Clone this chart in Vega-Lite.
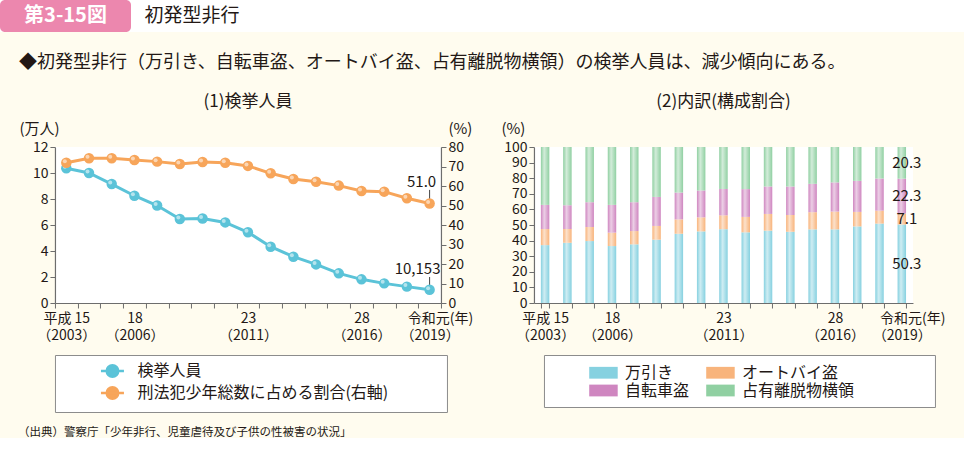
{
  "$schema": "https://vega.github.io/schema/vega-lite/v6.json",
  "background": "#fffcef",
  "padding": {"left": 0, "top": 0, "right": 0, "bottom": 0},
  "config": {
    "font": "Noto Sans CJK JP",
    "view": {"stroke": null},
    "axis": {"labelFont": "Noto Sans CJK JP", "titleFont": "Noto Sans CJK JP", "labelFontSize": 14, "labelColor": "#231815", "domainColor": "#6d6d6d", "tickColor": "#6d6d6d", "grid": false, "titleFontWeight": "normal", "titleFontSize": 15, "titleColor": "#231815", "tickSize": 5, "domainWidth": 1.2, "labelOverlap": false},
    "legend": {"labelFont": "Noto Sans CJK JP", "labelColor": "#231815", "labelLimit": 500},
    "title": {"font": "Noto Sans CJK JP", "fontWeight": "normal", "color": "#231815"}
  },
  "title": {"text": "（出典）警察庁「少年非行、児童虐待及び子供の性被害の状況」", "orient": "bottom", "anchor": "start", "fontSize": 11.5, "offset": 14, "dx": 18},
  "center": true,
  "spacing": 22,
  "vconcat": [
    {
      "spacing": 0,
      "hconcat": [
        {
          "width": 131, "height": 32,
          "view": {"fill": "white", "stroke": null},
          "data": {"values": [{"t": "第3-15図"}]},
          "layer": [
            {"mark": {"type": "rect", "color": "#ec87ae", "cornerRadius": 5}, "encoding": {}},
            {"mark": {"type": "text", "color": "white", "fontSize": 20, "fontWeight": "bold"}, "encoding": {"text": {"field": "t"}}}
          ]
        },
        {
          "width": 122, "height": 32,
          "view": {"fill": "white", "stroke": null},
          "data": {"values": [{"t": "初発型非行"}]},
          "mark": {"type": "text", "fontSize": 19, "color": "#231815"},
          "encoding": {"text": {"field": "t"}}
        },
        {
          "width": 747, "height": 32,
          "view": {"fill": "white", "stroke": null},
          "data": {"values": [{"t": ""}]},
          "mark": {"type": "text"},
          "encoding": {"text": {"field": "t"}}
        }
      ]
    },
    {
      "title": {"text": "◆初発型非行（万引き、自転車盗、オートバイ盗、占有離脱物横領）の検挙人員は、減少傾向にある。", "anchor": "start", "fontSize": 18, "offset": 21},
      "spacing": 28,
      "resolve": {"scale": {"color": "independent"}, "legend": {"color": "independent"}},
      "hconcat": [
        {
          "title": {"text": "(1)検挙人員", "fontSize": 17, "offset": 10},
          "width": 386, "height": 156,
          "view": {"fill": "white", "stroke": null},
          "data": {"values": [
            {"year": 2003, "series": "検挙人員", "value": 10.36},
            {"year": 2004, "series": "検挙人員", "value": 10.0},
            {"year": 2005, "series": "検挙人員", "value": 9.15},
            {"year": 2006, "series": "検挙人員", "value": 8.25},
            {"year": 2007, "series": "検挙人員", "value": 7.5},
            {"year": 2008, "series": "検挙人員", "value": 6.46},
            {"year": 2009, "series": "検挙人員", "value": 6.5},
            {"year": 2010, "series": "検挙人員", "value": 6.2},
            {"year": 2011, "series": "検挙人員", "value": 5.44},
            {"year": 2012, "series": "検挙人員", "value": 4.33},
            {"year": 2013, "series": "検挙人員", "value": 3.56},
            {"year": 2014, "series": "検挙人員", "value": 2.97},
            {"year": 2015, "series": "検挙人員", "value": 2.28},
            {"year": 2016, "series": "検挙人員", "value": 1.82},
            {"year": 2017, "series": "検挙人員", "value": 1.51},
            {"year": 2018, "series": "検挙人員", "value": 1.26},
            {"year": 2019, "series": "検挙人員", "value": 1.0153, "label": "10,153"},
            {"year": 2003, "series": "刑法犯少年総数に占める割合(右軸)", "value": 71.9},
            {"year": 2004, "series": "刑法犯少年総数に占める割合(右軸)", "value": 74.2},
            {"year": 2005, "series": "刑法犯少年総数に占める割合(右軸)", "value": 74.2},
            {"year": 2006, "series": "刑法犯少年総数に占める割合(右軸)", "value": 73.3},
            {"year": 2007, "series": "刑法犯少年総数に占める割合(右軸)", "value": 72.5},
            {"year": 2008, "series": "刑法犯少年総数に占める割合(右軸)", "value": 71.3},
            {"year": 2009, "series": "刑法犯少年総数に占める割合(右軸)", "value": 72.3},
            {"year": 2010, "series": "刑法犯少年総数に占める割合(右軸)", "value": 71.9},
            {"year": 2011, "series": "刑法犯少年総数に占める割合(右軸)", "value": 70.3},
            {"year": 2012, "series": "刑法犯少年総数に占める割合(右軸)", "value": 66.5},
            {"year": 2013, "series": "刑法犯少年総数に占める割合(右軸)", "value": 63.6},
            {"year": 2014, "series": "刑法犯少年総数に占める割合(右軸)", "value": 62.2},
            {"year": 2015, "series": "刑法犯少年総数に占める割合(右軸)", "value": 60.2},
            {"year": 2016, "series": "刑法犯少年総数に占める割合(右軸)", "value": 57.4},
            {"year": 2017, "series": "刑法犯少年総数に占める割合(右軸)", "value": 57.1},
            {"year": 2018, "series": "刑法犯少年総数に占める割合(右軸)", "value": 53.7},
            {"year": 2019, "series": "刑法犯少年総数に占める割合(右軸)", "value": 51.0, "label": "51.0"}
          ]},
          "encoding": {
            "x": {"field": "year", "type": "ordinal", "bandPosition": 0.5,
              "scale": {"type": "band", "paddingInner": 0, "paddingOuter": 0},
              "axis": {"title": null, "labelAngle": 0, "tickBand": "extent", "labelPadding": 3, "labelLineHeight": 17,
                "labelExpr": "datum.value == 2003 ? ['平成 15', '（2003）'] : datum.value == 2006 ? ['18', '（2006）'] : datum.value == 2011 ? ['23', '（2011）'] : datum.value == 2016 ? ['28', '（2016）'] : datum.value == 2019 ? ['\u200B\u3000\u2002令和元(年)', '（2019）'] : ''"}}
          },
          "layer": [
            {
              "transform": [{"filter": "datum.series == '検挙人員'"}],
              "encoding": {
                "y": {"field": "value", "type": "quantitative", "scale": {"domain": [0, 12]},
                  "axis": {"values": [0, 2, 4, 6, 8, 10, 12], "title": "(万人)", "titleAngle": 0, "titleX": -16, "titleY": -19, "titleAlign": "center", "titleBaseline": "middle", "labelPadding": 2, "labelOverlap": false}}
              },
              "layer": [
                {"transform": [{"filter": "datum.label"}], "mark": {"type": "rule", "color": "#444", "strokeWidth": 1}, "encoding": {"y2": {"datum": 2.0}}},
                {"mark": {"type": "line", "strokeWidth": 3, "point": {"filled": true, "size": 110}},
                  "encoding": {"color": {"field": "series", "type": "nominal",
                    "scale": {"domain": ["検挙人員", "刑法犯少年総数に占める割合(右軸)"], "range": ["#5bc3d8", "#f7a55a"]},
                    "legend": {"orient": "none", "legendX": 0, "legendY": 208, "title": " ", "titleOrient": "right", "titlePadding": 51, "titleFontSize": 1, "padding": 8, "strokeColor": "#8c8c8c", "fillColor": "white", "labelFontSize": 16, "symbolOffset": 41.5, "labelOffset": 17, "rowPadding": 0, "symbolSize": 132, "symbolStrokeWidth": 2.5,
                      "symbolType": "M-2,0H2M-1,0A1,1 0 1,0 1,0A1,1 0 1,0 -1,0Z",
                      "encode": {"symbols": {"update": {"fill": {"signal": "datum.value == '検挙人員' ? '#5bc3d8' : '#f7a55a'"}, "stroke": {"signal": "datum.value == '検挙人員' ? '#5bc3d8' : '#f7a55a'"}}}}}}}},
                {"mark": {"type": "point", "filled": true, "color": "white", "opacity": 0.55, "size": 16, "xOffset": -1.5, "yOffset": -1.5}},
                {"transform": [{"filter": "datum.label"}], "mark": {"type": "text", "fontSize": 15, "dx": -12, "dy": -21, "color": "#231815"}, "encoding": {"text": {"field": "label"}}}
              ]
            },
            {
              "transform": [{"filter": "datum.series != '検挙人員'"}],
              "encoding": {
                "y": {"field": "value", "type": "quantitative", "scale": {"domain": [0, 80]},
                  "axis": {"orient": "right", "values": [0, 10, 20, 30, 40, 50, 60, 70, 80], "title": "(%)", "titleAngle": 0, "titleX": 19, "titleY": -19, "titleAlign": "center", "titleBaseline": "middle", "labelPadding": 2, "labelOverlap": false}}
              },
              "layer": [
                {"transform": [{"filter": "datum.label"}], "mark": {"type": "rule", "color": "#444", "strokeWidth": 1}, "encoding": {"y2": {"datum": 58}}},
                {"mark": {"type": "line", "strokeWidth": 3, "point": {"filled": true, "size": 110}},
                  "encoding": {"color": {"field": "series", "type": "nominal",
                    "scale": {"domain": ["検挙人員", "刑法犯少年総数に占める割合(右軸)"], "range": ["#5bc3d8", "#f7a55a"]},
                    "legend": {"orient": "none", "legendX": 0, "legendY": 208, "title": " ", "titleOrient": "right", "titlePadding": 51, "titleFontSize": 1, "padding": 8, "strokeColor": "#8c8c8c", "fillColor": "white", "labelFontSize": 16, "symbolOffset": 41.5, "labelOffset": 17, "rowPadding": 0, "symbolSize": 132, "symbolStrokeWidth": 2.5,
                      "symbolType": "M-2,0H2M-1,0A1,1 0 1,0 1,0A1,1 0 1,0 -1,0Z",
                      "encode": {"symbols": {"update": {"fill": {"signal": "datum.value == '検挙人員' ? '#5bc3d8' : '#f7a55a'"}, "stroke": {"signal": "datum.value == '検挙人員' ? '#5bc3d8' : '#f7a55a'"}}}}}}}},
                {"mark": {"type": "point", "filled": true, "color": "white", "opacity": 0.55, "size": 16, "xOffset": -1.5, "yOffset": -1.5}},
                {"transform": [{"filter": "datum.label"}], "mark": {"type": "text", "fontSize": 15, "dx": -8, "dy": -22, "color": "#231815"}, "encoding": {"text": {"field": "label"}}}
              ]
            }
          ],
          "resolve": {"scale": {"y": "independent"}}
        },
        {
          "title": {"text": "(2)内訳(構成割合)", "fontSize": 17, "offset": 10},
          "width": 379, "height": 156,
          "view": {"fill": "white", "stroke": null},
          "data": {"values": [
            {"year": 2003, "type": "万引き", "k": 1, "value": 37.1}, {"year": 2003, "type": "オートバイ盗", "k": 2, "value": 10.3}, {"year": 2003, "type": "自転車盗", "k": 3, "value": 15.5}, {"year": 2003, "type": "占有離脱物横領", "k": 4, "value": 37.1},
            {"year": 2004, "type": "万引き", "k": 1, "value": 38.6}, {"year": 2004, "type": "オートバイ盗", "k": 2, "value": 8.8}, {"year": 2004, "type": "自転車盗", "k": 3, "value": 15.3}, {"year": 2004, "type": "占有離脱物横領", "k": 4, "value": 37.3},
            {"year": 2005, "type": "万引き", "k": 1, "value": 39.7}, {"year": 2005, "type": "オートバイ盗", "k": 2, "value": 9.0}, {"year": 2005, "type": "自転車盗", "k": 3, "value": 15.9}, {"year": 2005, "type": "占有離脱物横領", "k": 4, "value": 35.4},
            {"year": 2006, "type": "万引き", "k": 1, "value": 36.5}, {"year": 2006, "type": "オートバイ盗", "k": 2, "value": 8.6}, {"year": 2006, "type": "自転車盗", "k": 3, "value": 17.8}, {"year": 2006, "type": "占有離脱物横領", "k": 4, "value": 37.1},
            {"year": 2007, "type": "万引き", "k": 1, "value": 37.6}, {"year": 2007, "type": "オートバイ盗", "k": 2, "value": 8.5}, {"year": 2007, "type": "自転車盗", "k": 3, "value": 18.5}, {"year": 2007, "type": "占有離脱物横領", "k": 4, "value": 35.4},
            {"year": 2008, "type": "万引き", "k": 1, "value": 40.6}, {"year": 2008, "type": "オートバイ盗", "k": 2, "value": 8.8}, {"year": 2008, "type": "自転車盗", "k": 3, "value": 18.6}, {"year": 2008, "type": "占有離脱物横領", "k": 4, "value": 32.0},
            {"year": 2009, "type": "万引き", "k": 1, "value": 44.4}, {"year": 2009, "type": "オートバイ盗", "k": 2, "value": 9.2}, {"year": 2009, "type": "自転車盗", "k": 3, "value": 17.2}, {"year": 2009, "type": "占有離脱物横領", "k": 4, "value": 29.2},
            {"year": 2010, "type": "万引き", "k": 1, "value": 45.9}, {"year": 2010, "type": "オートバイ盗", "k": 2, "value": 9.0}, {"year": 2010, "type": "自転車盗", "k": 3, "value": 17.2}, {"year": 2010, "type": "占有離脱物横領", "k": 4, "value": 27.9},
            {"year": 2011, "type": "万引き", "k": 1, "value": 47.3}, {"year": 2011, "type": "オートバイ盗", "k": 2, "value": 8.9}, {"year": 2011, "type": "自転車盗", "k": 3, "value": 16.9}, {"year": 2011, "type": "占有離脱物横領", "k": 4, "value": 26.9},
            {"year": 2012, "type": "万引き", "k": 1, "value": 45.3}, {"year": 2012, "type": "オートバイ盗", "k": 2, "value": 9.9}, {"year": 2012, "type": "自転車盗", "k": 3, "value": 17.8}, {"year": 2012, "type": "占有離脱物横領", "k": 4, "value": 27.0},
            {"year": 2013, "type": "万引き", "k": 1, "value": 46.4}, {"year": 2013, "type": "オートバイ盗", "k": 2, "value": 10.7}, {"year": 2013, "type": "自転車盗", "k": 3, "value": 17.6}, {"year": 2013, "type": "占有離脱物横領", "k": 4, "value": 25.3},
            {"year": 2014, "type": "万引き", "k": 1, "value": 45.7}, {"year": 2014, "type": "オートバイ盗", "k": 2, "value": 10.7}, {"year": 2014, "type": "自転車盗", "k": 3, "value": 18.3}, {"year": 2014, "type": "占有離脱物横領", "k": 4, "value": 25.3},
            {"year": 2015, "type": "万引き", "k": 1, "value": 47.2}, {"year": 2015, "type": "オートバイ盗", "k": 2, "value": 11.0}, {"year": 2015, "type": "自転車盗", "k": 3, "value": 18.2}, {"year": 2015, "type": "占有離脱物横領", "k": 4, "value": 23.6},
            {"year": 2016, "type": "万引き", "k": 1, "value": 47.2}, {"year": 2016, "type": "オートバイ盗", "k": 2, "value": 11.4}, {"year": 2016, "type": "自転車盗", "k": 3, "value": 18.7}, {"year": 2016, "type": "占有離脱物横領", "k": 4, "value": 22.7},
            {"year": 2017, "type": "万引き", "k": 1, "value": 49.1}, {"year": 2017, "type": "オートバイ盗", "k": 2, "value": 9.3}, {"year": 2017, "type": "自転車盗", "k": 3, "value": 19.9}, {"year": 2017, "type": "占有離脱物横領", "k": 4, "value": 21.7},
            {"year": 2018, "type": "万引き", "k": 1, "value": 50.9}, {"year": 2018, "type": "オートバイ盗", "k": 2, "value": 8.3}, {"year": 2018, "type": "自転車盗", "k": 3, "value": 20.6}, {"year": 2018, "type": "占有離脱物横領", "k": 4, "value": 20.2},
            {"year": 2019, "type": "万引き", "k": 1, "value": 50.3}, {"year": 2019, "type": "オートバイ盗", "k": 2, "value": 7.1}, {"year": 2019, "type": "自転車盗", "k": 3, "value": 22.3}, {"year": 2019, "type": "占有離脱物横領", "k": 4, "value": 20.3}
          ]},
          "transform": [{"stack": "value", "groupby": ["year"], "sort": [{"field": "k", "order": "ascending"}], "as": ["v0", "v1"]}],
          "encoding": {
            "x": {"field": "year", "type": "ordinal",
              "scale": {"type": "band", "paddingInner": 0.62, "paddingOuter": 0.31},
              "axis": {"title": null, "labelAngle": 0, "tickBand": "extent", "labelPadding": 3, "labelLineHeight": 17,
                "labelExpr": "datum.value == 2003 ? ['平成 15', '（2003）'] : datum.value == 2006 ? ['18', '（2006）'] : datum.value == 2011 ? ['23', '（2011）'] : datum.value == 2016 ? ['28', '（2016）'] : datum.value == 2019 ? ['\u200B\u3000\u2002令和元(年)', '（2019）'] : ''"}}
          },
          "layer": [
            {
              "mark": {"type": "bar"},
              "encoding": {
                "y": {"field": "v0", "type": "quantitative", "scale": {"domain": [0, 100]},
                  "axis": {"values": [0, 10, 20, 30, 40, 50, 60, 70, 80, 90, 100], "title": "(%)", "titleAngle": 0, "titleX": -21, "titleY": -19, "titleAlign": "center", "titleBaseline": "middle", "labelPadding": 2, "labelOverlap": false}},
                "y2": {"field": "v1"},
                "color": {"field": "type", "type": "nominal",
                  "scale": {"domain": ["万引き", "オートバイ盗", "自転車盗", "占有離脱物横領"], "range": ["#86d1e0", "#f8b47c", "#cf86c0", "#90d0a2"]},
                  "legend": {"orient": "none", "legendX": 10, "legendY": 208, "direction": "horizontal", "columns": 2, "columnPadding": 16, "rowPadding": 0, "title": " ", "titleOrient": "left", "titlePadding": 42, "titleFontSize": 1, "padding": 8, "strokeColor": "#8c8c8c", "fillColor": "white", "labelFontSize": 16, "labelOffset": 12, "symbolSize": 361, "symbolStrokeWidth": 0,
                    "symbolType": "M-1.5,-0.62H1.5V0.62H-1.5Z",
                    "labelExpr": "datum.label == '占有離脱物横領' ? datum.label + '\u3000\u3000\u3000\u3000\u2002\u200B' : datum.label"}}
              }
            },
            {
              "mark": {"type": "bar", "color": {"gradient": "linear", "x1": 0, "x2": 1, "y1": 0, "y2": 0, "stops": [{"offset": 0, "color": "rgba(255,255,255,0)"}, {"offset": 0.4, "color": "rgba(255,255,255,0.6)"}, {"offset": 1, "color": "rgba(255,255,255,0)"}]}},
              "encoding": {
                "y": {"field": "v0", "type": "quantitative", "scale": {"domain": [0, 100]},
                  "axis": {"values": [0, 10, 20, 30, 40, 50, 60, 70, 80, 90, 100], "title": "(%)", "titleAngle": 0, "titleX": -21, "titleY": -19, "titleAlign": "center", "titleBaseline": "middle", "labelPadding": 2, "labelOverlap": false}},
                "y2": {"field": "v1"}}
            },
            {
              "transform": [{"filter": "datum.year == 2019"}, {"calculate": "(datum.v0 + datum.v1) / 2", "as": "mid"}],
              "mark": {"type": "text", "fontSize": 15, "dx": 5, "color": "#231815"},
              "encoding": {
                "y": {"field": "mid", "type": "quantitative", "scale": {"domain": [0, 100]},
                  "axis": {"values": [0, 10, 20, 30, 40, 50, 60, 70, 80, 90, 100], "title": "(%)", "titleAngle": 0, "titleX": -21, "titleY": -19, "titleAlign": "center", "titleBaseline": "middle", "labelPadding": 2, "labelOverlap": false}},
                "text": {"field": "value", "format": ".1f"}}
            }
          ]
        }
      ]
    }
  ]
}
